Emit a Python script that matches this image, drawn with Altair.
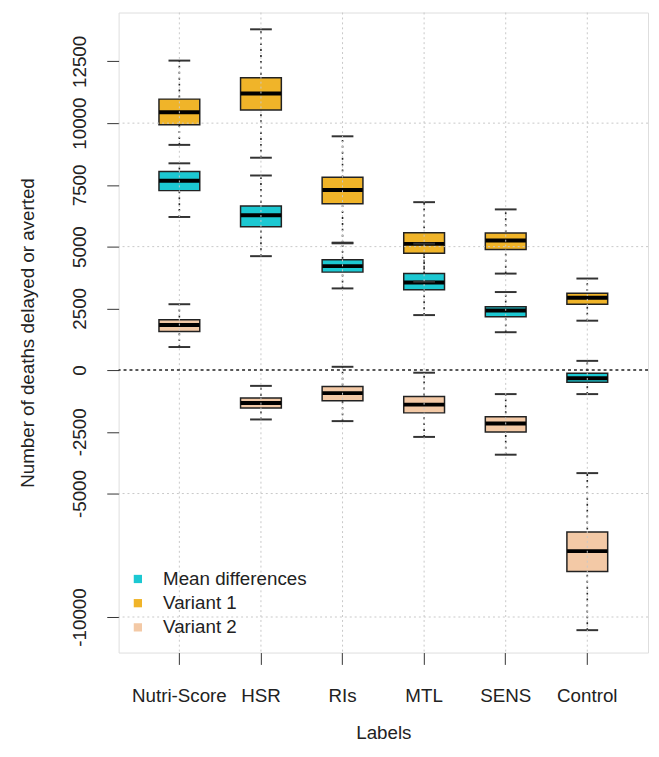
import altair as alt
import pandas as pd

categories = ["Nutri-Score", "HSR", "RIs", "MTL", "SENS", "Control"]
groups = ["Mean differences", "Variant 1", "Variant 2"]
colors = ["#1CC8D2", "#F0B429", "#F3C9A6"]

# Mean differences
md_lower = [6200, 4613, 3307, 2227, 1533, -973]
md_q1 = [7267, 5800, 3967, 3250, 2160, -493]
md_median = [7667, 6267, 4210, 3545, 2415, -333]
md_q3 = [8040, 6640, 4467, 3907, 2567, -133]
md_upper = [8373, 7880, 5133, 5120, 3160, 373]

# Variant 1
v1_lower = [9120, 8600, 5160, 3580, 3907, 2000]
v1_q1 = [9933, 10533, 6733, 4733, 4880, 2667]
v1_median = [10440, 11200, 7293, 5110, 5250, 2933]
v1_q3 = [10973, 11840, 7813, 5560, 5550, 3107]
v1_upper = [12533, 13800, 9467, 6800, 6507, 3707]

# Variant 2
v2_lower = [933, -2000, -2067, -2707, -3427, -10533]
v2_q1 = [1560, -1533, -1240, -1733, -2507, -8160]
v2_median = [1827, -1333, -933, -1400, -2160, -7333]
v2_q3 = [2040, -1133, -667, -1067, -1893, -6560]
v2_upper = [2667, -640, 133, -107, -973, -4173]

y_ticks = [-10000, -5000, -2500, 0, 2500, 5000, 7500, 10000, 12500]
grid_values = [-10000, -5000, 5000, 10000]

stats = {
    "Variant 1": (v1_lower, v1_q1, v1_median, v1_q3, v1_upper),
    "Variant 2": (v2_lower, v2_q1, v2_median, v2_q3, v2_upper),
    "Mean differences": (md_lower, md_q1, md_median, md_q3, md_upper),
}
rows = []
for g, (lo, q1, me, q3, hi) in stats.items():
    for i, c in enumerate(categories):
        rows.append(dict(category=c, group=g, lower=lo[i], q1=q1[i],
                         median=me[i], q3=q3[i], upper=hi[i]))
df = pd.DataFrame(rows)

FS = 19
TXT = "#222222"

xscale = alt.Scale(type="band", domain=categories, paddingInner=0, paddingOuter=0.2445)
yscale = alt.Scale(domain=[-11440, 14480], nice=False, zero=False)

xaxis = alt.Axis(title="Labels", labelAngle=0, tickSize=12, tickColor="#333",
                 labelPadding=23, domain=False, grid=False, labelFontSize=FS,
                 titleFontSize=FS, titleFontWeight="normal", titlePadding=18,
                 labelColor=TXT, titleColor=TXT)
yaxis = alt.Axis(title="Number of deaths delayed or averted", values=y_ticks,
                 labelExpr="'' + datum.value", labelAngle=-90, labelAlign="center",
                 labelBaseline="bottom", labelPadding=18, tickSize=12, tickColor="#333",
                 domain=False, grid=False, labelOverlap=False, labelFontSize=FS,
                 titleFontSize=FS, titleFontWeight="normal", titlePadding=33,
                 labelColor=TXT, titleColor=TXT)

X = alt.X("category:N", scale=xscale, axis=xaxis, sort=categories)

def Y(field):
    return alt.Y(field, scale=yscale, axis=yaxis)

base = alt.Chart(df)

whiskers = base.mark_rule(color="#222", strokeDash=[2, 4], strokeWidth=1.6).encode(
    x=X, y=Y("lower:Q"), y2="upper:Q")

boxes = base.mark_bar(width=alt.RelativeBandSize(0.5), stroke="#222", strokeWidth=1.5,
                      opacity=1).encode(
    x=X, y=Y("q1:Q"), y2="q3:Q",
    color=alt.Color("group:N", scale=alt.Scale(domain=groups, range=colors),
                    legend=alt.Legend(title=None, orient="none", legendX=10, legendY=564,
                                      symbolType="square", symbolSize=70,
                                      symbolStrokeWidth=0, labelFontSize=FS,
                                      labelColor=TXT, rowPadding=4.5, labelOffset=16)))

medians = base.mark_tick(size=41, thickness=4, color="black", opacity=1).encode(
    x=X, y=Y("median:Q"))

staples = base.transform_fold(["lower", "upper"], as_=["end", "val"]).mark_tick(
    size=22, thickness=2, color="#333", opacity=1).encode(x=X, y=Y("val:Q"))

vgrid = alt.Chart(pd.DataFrame({"category": categories})).mark_rule(
    color="#c8c8c8", strokeDash=[2, 3], strokeWidth=1).encode(x=X)

hgrid = alt.Chart(pd.DataFrame({"v": grid_values})).mark_rule(
    color="#c8c8c8", strokeDash=[2, 3], strokeWidth=1).encode(y=Y("v:Q"))

zero = alt.Chart(pd.DataFrame({"v": [0]})).mark_rule(
    color="#222", strokeDash=[3, 3], strokeWidth=1.5).encode(y=Y("v:Q"))

chart = alt.layer(whiskers, boxes, medians, staples, vgrid, hgrid, zero).properties(
    width=536, height=648,
    autosize=alt.AutoSizeParams(type="none"),
    padding={"left": 112, "top": 0, "right": 3, "bottom": 88},
).configure_view(stroke="#333", strokeWidth=1.5).configure(font="Liberation Sans")

chart.save("out.html", embed_options={"renderer": "svg", "actions": False})
